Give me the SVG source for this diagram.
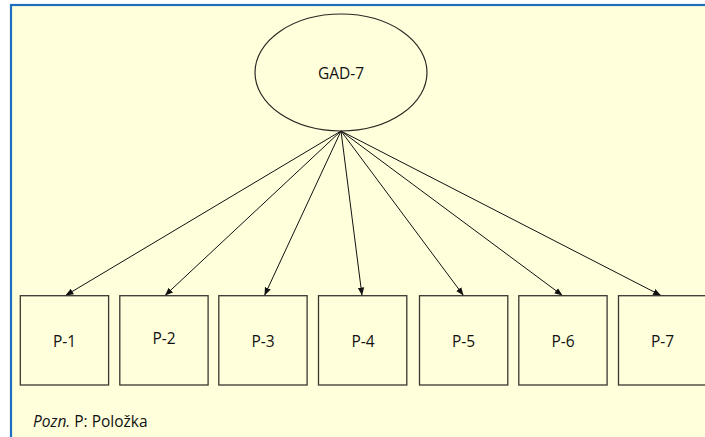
<svg xmlns="http://www.w3.org/2000/svg" width="705" height="437" viewBox="0 0 705 437">
<style>
.box{fill:none;stroke:#3b3631;stroke-width:1.3}
.lbl{font-family:"Open Sans","Liberation Sans",sans-serif;font-size:15.5px;fill:#111;text-anchor:middle}
.edge{stroke:#111;stroke-width:1;fill:none;marker-end:url(#ah)}
</style>
<defs>
<marker id="ah" viewBox="0 0 10 10" refX="10" refY="5" markerWidth="8" markerHeight="8" markerUnits="userSpaceOnUse" orient="auto">
<path d="M0,1 L10,5 L0,9 z" fill="#111"/>
</marker>
</defs>
<rect width="705" height="437" fill="#ffffff"/>
<rect x="11" y="5" width="700" height="440" fill="#ffffdc" stroke="#1e6fc0" stroke-width="2.2"/>
<g id="connectors">
<line class="edge" x1="341" y1="131" x2="65.5" y2="295.5"/>
<line class="edge" x1="341" y1="131" x2="165" y2="295.5"/>
<line class="edge" x1="341" y1="131" x2="264.5" y2="295.5"/>
<line class="edge" x1="341" y1="131" x2="362" y2="295.5"/>
<line class="edge" x1="341" y1="131" x2="463.5" y2="295.5"/>
<line class="edge" x1="341" y1="131" x2="562.5" y2="295.5"/>
<line class="edge" x1="341" y1="131" x2="661" y2="295.5"/>
</g>
<g id="gad7">
<ellipse cx="341" cy="72.5" rx="86" ry="58.5" fill="none" stroke="#2b2724" stroke-width="1.2"/>
<text class="lbl" x="341" y="79">GAD-7</text>
</g>
<g id="p1"><rect class="box" x="20.3" y="295.7" width="88.3" height="89.3"/><text class="lbl" x="64.5" y="346.5">P-1</text></g>
<g id="p2"><rect class="box" x="119.8" y="295.7" width="88.3" height="89.3"/><text class="lbl" x="164" y="344">P-2</text></g>
<g id="p3"><rect class="box" x="218.8" y="295.7" width="88.3" height="89.3"/><text class="lbl" x="263" y="346.5">P-3</text></g>
<g id="p4"><rect class="box" x="318.5" y="295.7" width="88.3" height="89.3"/><text class="lbl" x="363" y="346.5">P-4</text></g>
<g id="p5"><rect class="box" x="419.5" y="295.7" width="88.3" height="89.3"/><text class="lbl" x="463.5" y="346.5">P-5</text></g>
<g id="p6"><rect class="box" x="518.8" y="295.7" width="88.3" height="89.3"/><text class="lbl" x="563" y="346.5">P-6</text></g>
<g id="p7"><rect class="box" x="618.5" y="295.7" width="88.3" height="89.3"/><text class="lbl" x="662.5" y="346.5">P-7</text></g>
<text x="33" y="426.5" font-family="'Open Sans','Liberation Sans',sans-serif" font-size="15.5" fill="#111"><tspan font-style="italic">Pozn.</tspan> P: Položka</text>
</svg>
